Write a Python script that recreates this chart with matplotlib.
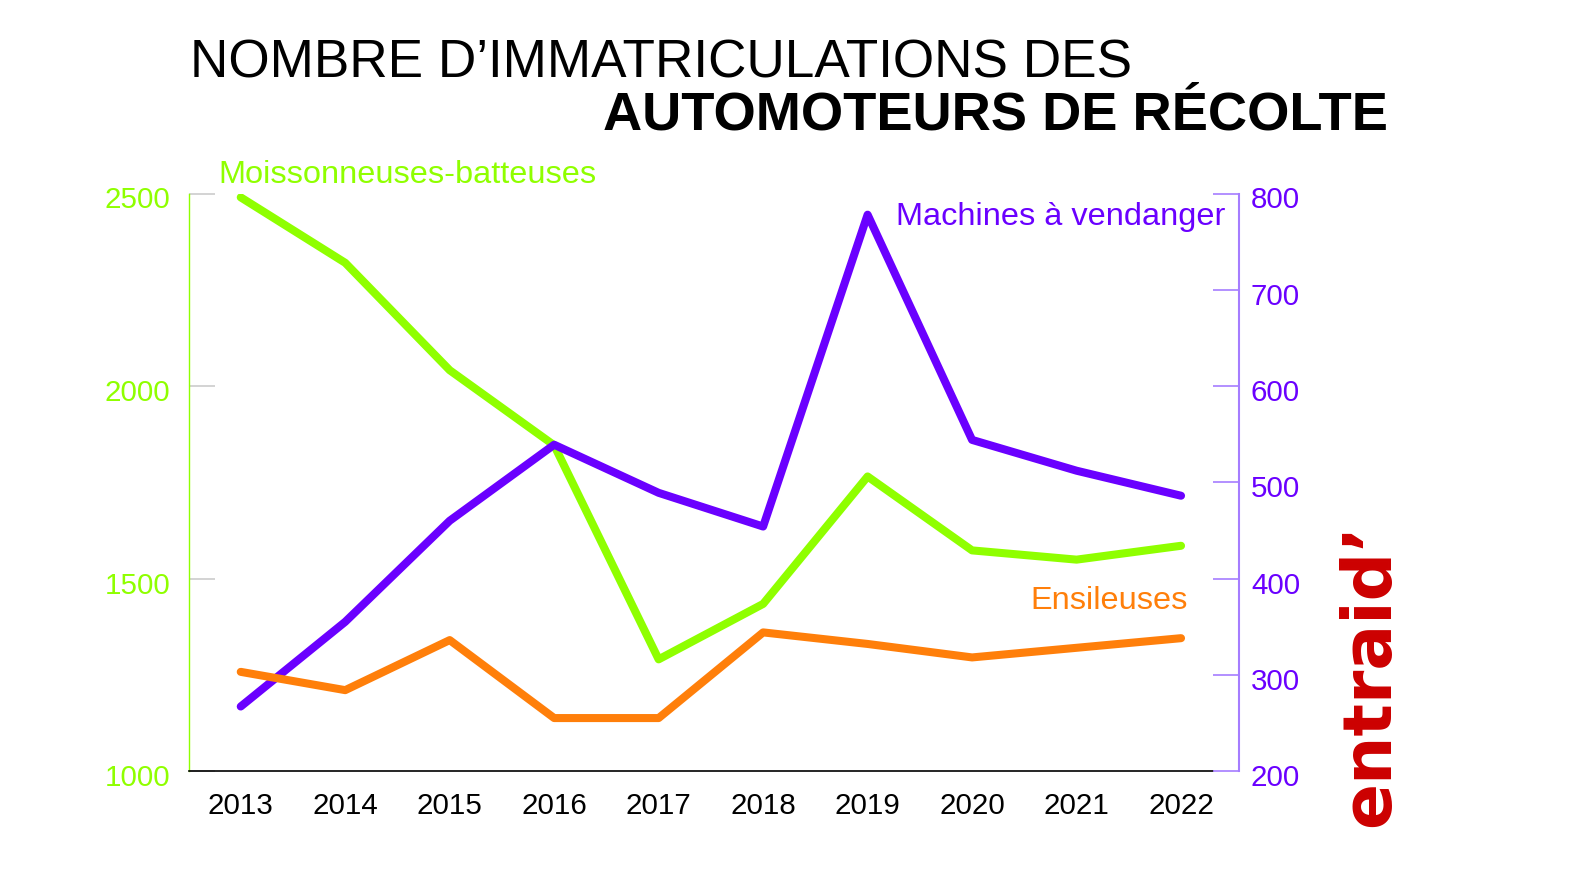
import matplotlib
matplotlib.use('Agg')
import matplotlib.pyplot as plt
from matplotlib import font_manager as fm
from matplotlib.transforms import ScaledTranslation

# ---------------- data ----------------
years = [2013, 2014, 2015, 2016, 2017, 2018, 2019, 2020, 2021, 2022]
moissonneuses = [2490, 2320, 2041, 1846, 1290, 1434, 1765, 1573, 1549, 1585]
machines_vendanger = [267, 355, 460, 539, 489, 454, 778, 544, 512, 486]
ensileuses = [303, 284, 336, 255, 255, 344, 332, 318, 328, 338]
left_ticks = [1000, 1500, 2000, 2500]
right_ticks = [200, 300, 400, 500, 600, 700, 800]
year_labels = [str(y) for y in years]

title_line1 = "NOMBRE D\u2019IMMATRICULATIONS DES"
title_line2 = "AUTOMOTEURS DE R\u00c9COLTE"
label_moiss = "Moissonneuses-batteuses"
label_vend = "Machines \u00e0 vendanger"
label_ensil = "Ensileuses"

# ---------------- style ----------------
GREEN = '#8fff00'
PURPLE = '#6a00ff'
ORANGE = '#ff7f0a'
SPINE_PURPLE = '#a57dff'
RED = '#cc0000'

names = {f.name for f in fm.fontManager.ttflist}
if 'Liberation Sans Narrow' in names:
    NARROW = 'Liberation Sans Narrow'
    k = 1.0
else:
    NARROW = 'Liberation Sans'
    k = 0.85
plt.rcParams['font.family'] = [NARROW, 'DejaVu Sans']

W, H = 1573, 885
fig = plt.figure(figsize=(W / 100, H / 100), dpi=100)
fig.patch.set_facecolor('white')

x0, x1 = 188.5, 1238.5
yb, yt = 771, 193.5
ax = fig.add_axes([x0 / W, (H - yb) / H, (x1 - x0) / W, (yb - yt) / H])
ax2 = ax.twinx()

lw = 5.8
ax.plot(years, moissonneuses, color=GREEN, lw=lw, solid_capstyle='round',
        solid_joinstyle='round', zorder=3)
ax2.plot(years, machines_vendanger, color=PURPLE, lw=lw, solid_capstyle='round',
         solid_joinstyle='round', zorder=3)
ax2.plot(years, ensileuses, color=ORANGE, lw=lw, solid_capstyle='round',
         solid_joinstyle='round', zorder=4)

ax.set_xlim(2012.5, 2022.55)
ax.set_ylim(1000, 2500)
ax2.set_ylim(200, 800)

ax.set_xticks(years)
ax.set_xticklabels(year_labels)
ax.set_yticks(left_ticks)
ax2.set_yticks(right_ticks)

tick_fs = 25 * k
ax.tick_params(axis='x', length=0, pad=15, labelsize=tick_fs, labelcolor='black')
ax.tick_params(axis='y', direction='in', length=18.7, width=1.2, color='#cccccc',
               labelcolor=GREEN, labelsize=tick_fs, pad=13)
ax2.tick_params(axis='y', direction='in', length=18.7, width=1.2, color=SPINE_PURPLE,
                labelcolor=PURPLE, labelsize=tick_fs, pad=9)

# labels sit slightly below their ticks in the reference
shift = ScaledTranslation(0, -4 / 100, fig.dpi_scale_trans)
for lab in ax.get_yticklabels() + ax2.get_yticklabels():
    lab.set_transform(lab.get_transform() + shift)

for s in ['top', 'right', 'bottom']:
    ax.spines[s].set_visible(False)
ax.spines['left'].set_color(GREEN)
ax.spines['left'].set_linewidth(1.0)
for s in ['top', 'left', 'bottom']:
    ax2.spines[s].set_visible(False)
ax2.spines['right'].set_color(SPINE_PURPLE)
ax2.spines['right'].set_linewidth(1.5)

# bottom axis line (stops at the inner end of the right ticks)
ax.plot([0, (1212.5 - x0) / (x1 - x0)], [0, 0], transform=ax.transAxes,
        color='black', lw=1.2, clip_on=False, zorder=5)

# ---------------- texts ----------------
def fy(y):
    return 1 - y / H

fig.text(190 / W, fy(77), title_line1, fontsize=45 * k, color='black',
         ha='left', va='baseline', family=[NARROW, 'DejaVu Sans'])
fig.text(1388 / W, fy(130), title_line2, fontsize=46 * k, color='black',
         fontweight='bold', ha='right', va='baseline', family=[NARROW, 'DejaVu Sans'])

fig.text(218 / W, fy(183), label_moiss, fontsize=27.5 * k, color=GREEN,
         ha='left', va='baseline')
fig.text(1225 / W, fy(225), label_vend, fontsize=27.5 * k, color=PURPLE,
         ha='right', va='baseline')
fig.text(1188 / W, fy(609), label_ensil, fontsize=27.5 * k, color=ORANGE,
         ha='right', va='baseline')

# logo
fig.text(1370 / W, fy(675), "entraid\u2019", rotation=90, color=RED, fontsize=49,
         fontweight='bold', family='DejaVu Sans', ha='center', va='center')

fig.savefig('out.png', dpi=100, facecolor='white')
